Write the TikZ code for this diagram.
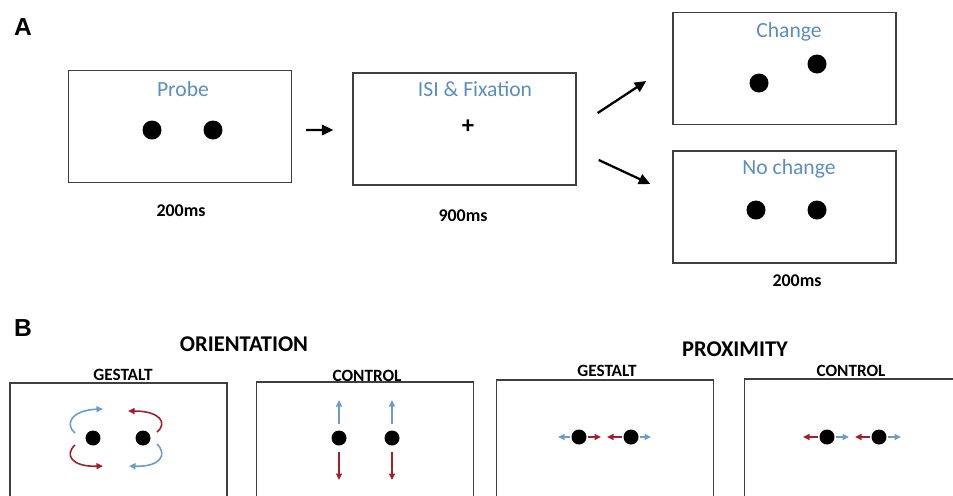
\documentclass[tikz,border=0pt]{standalone}
\usepackage{fontspec}
\setmainfont{Carlito}
\newfontfamily\panelfont{Liberation Sans}
\usepackage{tikz}
\usetikzlibrary{arrows.meta,positioning,calc}
\definecolor{labelblue}{HTML}{5A8EC3}
\definecolor{motionblue}{HTML}{6C9DC8}
\definecolor{motionred}{HTML}{A2202A}
\definecolor{framegray}{HTML}{3F3F3F}

\begin{document}
\begin{tikzpicture}[x=0.02cm, y=-0.02cm,
  screen/.style={draw=framegray, line width=0.85pt, inner sep=0pt, minimum width=4.46cm, minimum height=2.24cm},
  lowscreen/.style={draw=framegray, line width=0.85pt, inner sep=0pt, minimum width=4.34cm, minimum height=3.6cm},
  dot/.style={circle, fill=black, inner sep=0pt, minimum size=0.38cm},
  sdot/.style={circle, fill=black, inner sep=0pt, minimum size=0.3cm},
  title/.style={text=labelblue, font=\fontsize{12.3}{14}\selectfont},
  dur/.style={font=\fontsize{10.2}{12}\selectfont\bfseries},
  head/.style={font=\fontsize{12.8}{15}\selectfont\bfseries},
  cond/.style={font=\fontsize{9.8}{11}\selectfont\bfseries},
  panel/.style={font=\fontsize{14}{16}\selectfont\panelfont\bfseries},
  arr/.style={-{Triangle[length=2.3mm,width=2.1mm]}, line width=1.3pt},
  barr/.style={-{Triangle[length=1.3mm,width=1.2mm]}, line width=0.9pt, motionblue},
  rarr/.style={-{Triangle[length=1.3mm,width=1.2mm]}, line width=0.9pt, motionred},
]
  \clip (0,0) rectangle (953,495);

  \node[panel] (lblA) at (23,27) {A};
  \node[panel] (lblB) at (23,328) {B};

  \node[screen] (probe) at (180,126.5) {};
  \node[screen] (isi) at (464.5,129) {};
  \node[screen] (change) at (784.5,68.5) {};
  \node[screen] (nochange) at (784.5,207) {};

  \node[title] (tprobe) at (183,89) {Probe};
  \node[title] (tisi) at (475,89) {ISI \& Fixation};
  \node[title] (tchange) at (789,32) {Change};
  \node[title] (tnochange) at (789,169) {No change};

  \node[dot] (p1) at (152,130) {};
  \node[dot] (p2) at (213,130) {};
  \node[font=\fontsize{14}{14}\selectfont\bfseries] (fix) at (468,127) {+};
  \node[dot] (c1) at (759,83) {};
  \node[dot] (c2) at (817,64) {};
  \node[dot] (n1) at (756,210) {};
  \node[dot] (n2) at (817,210) {};

  \node[dur] (d1) at (181,211) {200ms};
  \node[dur] (d2) at (463,216) {900ms};
  \node[dur] (d3) at (797,281) {200ms};

  \draw[arr] ($(probe.east)+(14,3.5)$) -- ($(isi.west)+(-19,1)$);
  \draw[arr] ($(isi.east)+(21,-16)$) -- ($(change.west)+(-26,12.5)$);
  \draw[arr] ($(isi.east)+(22,31)$) -- ($(nochange.west)+(-22,-23)$);

  \node[head] (orient) at (244,344) {ORIENTATION};
  \node[head] (prox) at (735,349) {PROXIMITY};

  \node[lowscreen] (og) at (118.5,473) {};
  \node[lowscreen] (oc) at (365,472) {};
  \node[lowscreen] (pg) at (605,470) {};
  \node[lowscreen] (pc) at (853,469) {};

  \node[cond] (tog) at (123,375) {GESTALT};
  \node[cond] (toc) at (367,376) {CONTROL};
  \node[cond] (tpg) at (607,371) {GESTALT};
  \node[cond] (tpc) at (851,371) {CONTROL};

  \node[sdot] (og1) at (93,438) {};
  \node[sdot] (og2) at (143,438) {};
  \draw[barr] (75,433) .. controls (64,424) and (72,410) .. (103,409);
  \draw[rarr] (157,432) .. controls (168,423) and (160,411) .. (128,411);
  \draw[rarr] (75,445) .. controls (64,455) and (72,467) .. (103,466);
  \draw[barr] (157,444) .. controls (168,455) and (160,467) .. (129,466);

  \node[sdot] (oc1) at (339,438) {};
  \node[sdot] (oc2) at (392,438) {};
  \foreach \d in {oc1,oc2} {
    \draw[barr] ($(\d)+(0,-14)$) -- ($(\d)+(0,-38)$);
    \draw[rarr] ($(\d)+(0,14)$) -- ($(\d)+(0,42)$);
  }

  \node[sdot] (pg1) at (579,437) {};
  \node[sdot] (pg2) at (631,437) {};
  \draw[barr] ($(pg1)+(-9,0)$) -- ($(pg1)+(-21,0)$);
  \draw[rarr] ($(pg1)+(9,0)$) -- ($(pg1)+(22,0)$);
  \draw[rarr] ($(pg2)+(-9,0)$) -- ($(pg2)+(-24,0)$);
  \draw[barr] ($(pg2)+(9,0)$) -- ($(pg2)+(20,0)$);

  \node[sdot] (pc1) at (827,437) {};
  \node[sdot] (pc2) at (879,437) {};
  \foreach \d in {pc1,pc2} {
    \draw[rarr] ($(\d)+(-9,0)$) -- ($(\d)+(-24,0)$);
    \draw[barr] ($(\d)+(9,0)$) -- ($(\d)+(22,0)$);
  }
\end{tikzpicture}
\end{document}
